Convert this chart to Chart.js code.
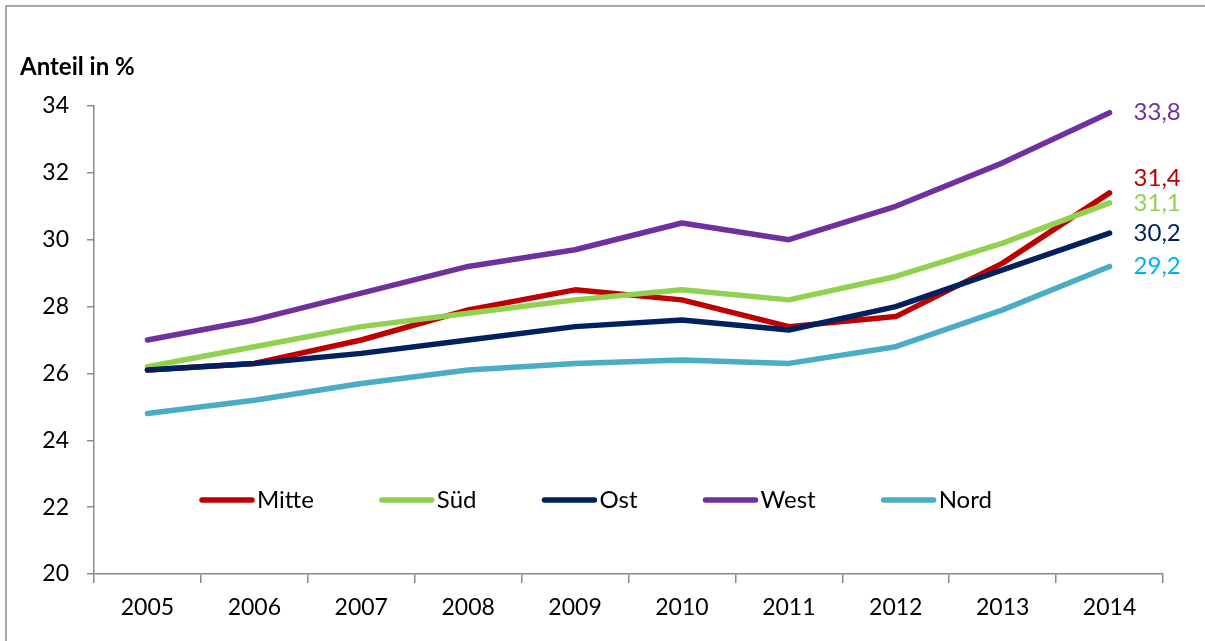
<!DOCTYPE html>
<html lang="de">
<head>
<meta charset="utf-8">
<title>Anteil in %</title>
<script src="https://cdn.jsdelivr.net/npm/chart.js@4/dist/chart.umd.min.js"></script>
<style>
    html, body {
        margin: 0;
        padding: 0;
        background: #ffffff;
    }
    #chartBox {
        position: relative;
        width: 1205px;
        height: 641px;
    }
</style>
</head>
<body>
<div id="chartBox">
    <canvas id="regionChart"></canvas>
</div>
<script>
const years = ['2005', '2006', '2007', '2008', '2009', '2010', '2011', '2012', '2013', '2014'];

const mitteValues = [26.1, 26.3, 27.0, 27.9, 28.5, 28.2, 27.4, 27.7, 29.3, 31.4];
const suedValues = [26.2, 26.8, 27.4, 27.8, 28.2, 28.5, 28.2, 28.9, 29.9, 31.1];
const ostValues = [26.1, 26.3, 26.6, 27.0, 27.4, 27.6, 27.3, 28.0, 29.1, 30.2];
const westValues = [27.0, 27.6, 28.4, 29.2, 29.7, 30.5, 30.0, 31.0, 32.3, 33.8];
const nordValues = [24.8, 25.2, 25.7, 26.1, 26.3, 26.4, 26.3, 26.8, 27.9, 29.2];

const seriesNames = ['Mitte', 'Süd', 'Ost', 'West', 'Nord'];
const yMin = 20;
const yMax = 34;
const yStep = 2;

const FONT = 'Lato, "Open Sans", sans-serif';
const AXIS_GREY = '#8a8a8a';

// end-of-line value labels: colour and a small vertical nudge
const endLabelStyle = {
    Mitte: { color: '#C00000', dy: -15 },
    'Süd': { color: '#92D050', dy: 0 },
    Ost: { color: '#002060', dy: 0 },
    West: { color: '#7030A0', dy: 0 },
    Nord: { color: '#00B0F0', dy: 0 },
};

function makeSeries(label, data, color, order) {
    return {
        label,
        data,
        borderColor: color,
        backgroundColor: color,
        borderWidth: 5.5,
        borderCapStyle: 'round',
        borderJoinStyle: 'round',
        pointRadius: 0,
        tension: 0,
        fill: false,
        order,
    };
}

const framePlugin = {
    id: 'frame',
    beforeDraw(chart) {
        const ctx = chart.ctx;
        ctx.save();
        ctx.strokeStyle = AXIS_GREY;
        ctx.lineWidth = 1.5;
        ctx.beginPath();
        ctx.moveTo(6, chart.height + 2);
        ctx.lineTo(6, 6);
        ctx.lineTo(chart.width + 2, 6);
        ctx.stroke();

        ctx.fillStyle = '#000000';
        ctx.font = `bold 24px ${FONT}`;
        ctx.textAlign = 'left';
        ctx.textBaseline = 'middle';
        ctx.fillText('Anteil in %', 20, 67);
        ctx.restore();
    }
};

const endLabelPlugin = {
    id: 'endLabels',
    afterDatasetsDraw(chart) {
        const ctx = chart.ctx;
        const xScale = chart.scales.x;
        const yScale = chart.scales.y;
        const last = years.length - 1;
        ctx.save();
        ctx.font = `24px ${FONT}`;
        ctx.textAlign = 'left';
        ctx.textBaseline = 'middle';
        chart.data.datasets.forEach((ds) => {
            const style = endLabelStyle[ds.label];
            const value = ds.data[last];
            const x = xScale.getPixelForValue(last) + 24;
            const y = yScale.getPixelForValue(value) + style.dy;
            ctx.fillStyle = style.color;
            ctx.fillText(value.toFixed(1).replace('.', ','), x, y);
        });
        ctx.restore();
    }
};

const inlineLegendPlugin = {
    id: 'inlineLegend',
    afterDatasetsDraw(chart) {
        const ctx = chart.ctx;
        const y = 500;
        let x = 202;
        ctx.save();
        ctx.font = `24px ${FONT}`;
        ctx.textAlign = 'left';
        ctx.textBaseline = 'middle';
        ctx.lineCap = 'round';
        chart.data.datasets.forEach((ds) => {
            ctx.strokeStyle = ds.borderColor;
            ctx.lineWidth = 5.5;
            ctx.beginPath();
            ctx.moveTo(x, y);
            ctx.lineTo(x + 50, y);
            ctx.stroke();
            ctx.fillStyle = '#000000';
            ctx.fillText(ds.label, x + 55, y);
            x += 55 + ctx.measureText(ds.label).width + 68;
        });
        ctx.restore();
    }
};

const regionChart = new Chart(document.getElementById('regionChart'), {
    type: 'line',
    data: {
        labels: years,
        datasets: [
            makeSeries(seriesNames[0], mitteValues, '#C00000', 5),
            makeSeries(seriesNames[1], suedValues, '#92D050', 4),
            makeSeries(seriesNames[2], ostValues, '#002060', 3),
            makeSeries(seriesNames[3], westValues, '#7030A0', 2),
            makeSeries(seriesNames[4], nordValues, '#4BACC6', 1),
        ]
    },
    options: {
        responsive: true,
        maintainAspectRatio: false,
        animation: false,
        devicePixelRatio: 1,
        layout: {
            padding: { top: 106, right: 42, bottom: 0, left: 0 }
        },
        plugins: {
            legend: { display: false },
            tooltip: { enabled: false },
        },
        scales: {
            x: {
                offset: true,
                grid: {
                    offset: true,
                    drawOnChartArea: false,
                    drawTicks: true,
                    tickLength: 9,
                    color: AXIS_GREY,
                    lineWidth: 1.5,
                },
                border: { color: AXIS_GREY, width: 1.5 },
                ticks: {
                    color: '#000000',
                    font: { family: FONT, size: 23 },
                    padding: 11,
                    maxRotation: 0,
                    autoSkip: false,
                },
                afterFit(scale) {
                    scale.height = 67;
                }
            },
            y: {
                min: yMin,
                max: yMax,
                grid: {
                    drawOnChartArea: false,
                    drawTicks: true,
                    tickLength: 7,
                    color: AXIS_GREY,
                    lineWidth: 1.5,
                },
                border: { color: AXIS_GREY, width: 1.5 },
                ticks: {
                    stepSize: yStep,
                    color: '#000000',
                    font: { family: FONT, size: 23 },
                    padding: 18,
                },
                afterFit(scale) {
                    scale.width = 94;
                }
            }
        }
    },
    plugins: [framePlugin, endLabelPlugin, inlineLegendPlugin]
});
</script>
</body>
</html>
